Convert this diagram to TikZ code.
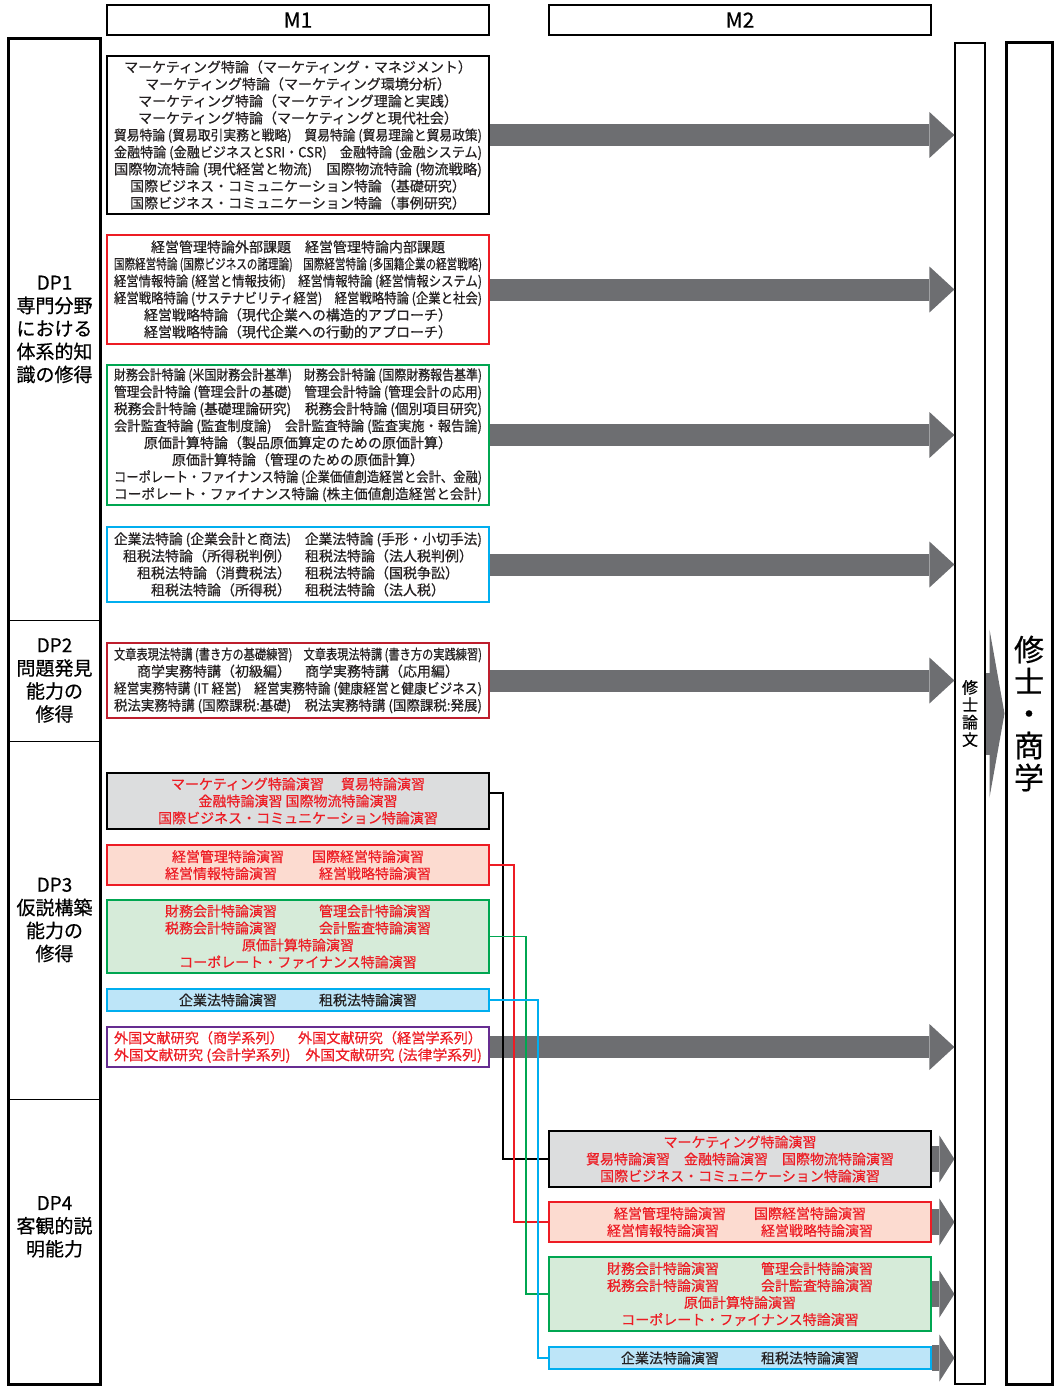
\documentclass[tikz,border=0pt]{standalone}
\usepackage{fontspec}
\setmainfont{Noto Sans CJK JP}[FakeBold=0.5]
\usetikzlibrary{arrows.meta}
\definecolor{cred}{HTML}{ED1C24}
\definecolor{cgreen}{HTML}{00A651}
\definecolor{ccyan}{HTML}{00AEEF}
\definecolor{cdarkred}{HTML}{BE1E2D}
\definecolor{cpurple}{HTML}{662D91}
\definecolor{fillgray}{HTML}{DCDDDE}
\definecolor{fillred}{HTML}{FCDBD0}
\definecolor{fillgreen}{HTML}{D6EBD9}
\definecolor{fillblue}{HTML}{BDE5F8}
\definecolor{arrowgray}{HTML}{6D6E71}
\definecolor{textblack}{HTML}{231F20}
\newcommand\fitrow[1]{\resizebox{184pt}{\height}{#1}}
\begin{document}
\begin{tikzpicture}[x=0.5pt,y=-0.5pt,
  header/.style={draw, line width=0.6pt, minimum width=191pt, minimum height=15pt, inner sep=0pt, font=\fontsize{10.5}{11}\selectfont},
  dpcell/.style={draw, line width=0.5pt, minimum width=45.5pt, inner sep=0pt, align=center, font=\fontsize{9.5}{11.5}\selectfont},
  course/.style={draw, line width=0.8pt, inner sep=0pt, minimum width=191pt, align=center, text=textblack, font=\fontsize{7}{8.5}\selectfont},
  seminar/.style={course, text=cred},
  mainarrow/.style={draw=arrowgray, line width=11pt, -{Triangle[width=23pt, length=12.5pt, line width=0pt]}},
  subarrow/.style={draw=arrowgray, line width=13pt, -{Triangle[width=23.5pt, length=7.5pt, line width=0pt]}},
  bigarrow/.style={draw=arrowgray, line width=41pt, -{Triangle[width=84pt, length=7.5pt, line width=0pt]}},
  conn/.style={line width=0.8pt}]
\useasboundingbox (0,0) rectangle (1054,1386);

\node[header] (m1) at (298,20) {M1};
\node[header] (m2) at (740,20) {M2};

\node[dpcell, minimum height=290.5pt] (dp1) at (54.5,329.5) {DP1\\専門分野\\における\\体系的知\\識の修得};
\node[dpcell, minimum height=60.5pt] (dp2) at (54.5,680.5) {DP2\\問題発見\\能力の\\修得};
\node[dpcell, minimum height=179pt] (dp3) at (54.5,920) {DP3\\仮説構築\\能力の\\修得};
\node[dpcell, minimum height=142.5pt] (dp4) at (54.5,1241.5) {DP4\\客観的説\\明能力\\[4pt]};
\draw[line width=1.5pt] (dp1.north west) rectangle (dp4.south east);

\node[draw, line width=0.6pt, minimum width=15pt, minimum height=670.5pt, inner sep=0pt, align=center, font=\fontsize{8}{8.7}\selectfont] (thesis) at (970,713.5) {修\\士\\論\\文};
\node[draw, line width=1.5pt, minimum width=23pt, minimum height=670.5pt, inner sep=0pt, align=center, font=\fontsize{15}{16}\selectfont] (degree) at (1029,713.5) {修\\士\\・\\商\\学};

\node[course, draw=black, line width=1pt, minimum height=79pt] (b1) at (298,135) {マーケティング特論（マーケティング・マネジメント）\\マーケティング特論（マーケティング環境分析）\\マーケティング特論（マーケティング理論と実践）\\マーケティング特論（マーケティングと現代社会）\\\fitrow{貿易特論 (貿易取引実務と戦略)　貿易特論 (貿易理論と貿易政策)}\\\fitrow{金融特論 (金融ビジネスとSRI・CSR)　金融特論 (金融システム)}\\\fitrow{国際物流特論 (現代経営と物流)　国際物流特論 (物流戦略)}\\国際ビジネス・コミュニケーション特論（基礎研究）\\国際ビジネス・コミュニケーション特論（事例研究）};
\node[course, draw=cred, minimum height=54.5pt] (b2) at (298,289.5) {経営管理特論外部課題　経営管理特論内部課題\\\fitrow{国際経営特論 (国際ビジネスの諸理論)　国際経営特論 (多国籍企業の経営戦略)}\\\fitrow{経営情報特論 (経営と情報技術)　経営情報特論 (経営情報システム)}\\\fitrow{経営戦略特論 (サステナビリティ経営)　経営戦略特論 (企業と社会)}\\経営戦略特論（現代企業への構造的アプローチ）\\経営戦略特論（現代企業への行動的アプローチ）};
\node[course, draw=cgreen, minimum height=70pt] (b3) at (298,435) {\fitrow{財務会計特論 (米国財務会計基準)　財務会計特論 (国際財務報告基準)}\\\fitrow{管理会計特論 (管理会計の基礎)　管理会計特論 (管理会計の応用)}\\\fitrow{税務会計特論 (基礎理論研究)　税務会計特論 (個別項目研究)}\\\fitrow{会計監査特論 (監査制度論)　会計監査特論 (監査実施・報告論)}\\原価計算特論（製品原価算定のための原価計算）\\原価計算特論（管理のための原価計算）\\\fitrow{コーポレート・ファイナンス特論 (企業価値創造経営と会計、金融)}\\\fitrow{コーポレート・ファイナンス特論 (株主価値創造経営と会計)}};
\node[course, draw=ccyan, minimum height=37.5pt] (b4) at (298,564.5) {\fitrow{企業法特論 (企業会計と商法)　企業法特論 (手形・小切手法)}\\租税法特論（所得税判例）　租税法特論（法人税判例）\\租税法特論（消費税法）　租税法特論（国税争訟）\\租税法特論（所得税）　租税法特論（法人税）};
\node[course, draw=cdarkred, minimum height=37.5pt] (b5) at (298,680.5) {\fitrow{文章表現法特講 (書き方の基礎練習)　文章表現法特講 (書き方の実践練習)}\\商学実務特講（初級編）　商学実務特講（応用編）\\\fitrow{経営実務特講 (IT 経営)　経営実務特論 (健康経営と健康ビジネス)}\\\fitrow{税法実務特講 (国際課税:基礎)　税法実務特講 (国際課税:発展)}};

\node[seminar, draw=black, line width=1.2pt, fill=fillgray, minimum height=28pt] (b6) at (298,801) {マーケティング特論演習　 貿易特論演習\\金融特論演習 国際物流特論演習\\国際ビジネス・コミュニケーション特論演習};
\node[seminar, draw=cred, fill=fillred, minimum height=20pt] (b7) at (298,865) {経営管理特論演習　　国際経営特論演習\\経営情報特論演習　　　経営戦略特論演習};
\node[seminar, draw=cgreen, fill=fillgreen, minimum height=36.5pt] (b8) at (298,936.5) {財務会計特論演習　　　管理会計特論演習\\税務会計特論演習　　　会計監査特論演習\\原価計算特論演習\\コーポレート・ファイナンス特論演習};
\node[course, draw=ccyan, fill=fillblue, minimum height=11pt] (b9) at (298,1000) {企業法特論演習　　　租税法特論演習};
\node[seminar, draw=cpurple, minimum height=20pt] (b10) at (298,1047) {\fitrow{外国文献研究（商学系列）　外国文献研究（経営学系列）}\\\fitrow{外国文献研究 (会計学系列)　外国文献研究 (法律学系列)}};

\node[seminar, draw=black, line width=1.2pt, fill=fillgray, minimum height=28pt] (c1) at (740,1159) {マーケティング特論演習\\貿易特論演習　金融特論演習　国際物流特論演習\\国際ビジネス・コミュニケーション特論演習};
\node[seminar, draw=cred, fill=fillred, minimum height=20pt] (c2) at (740,1222) {経営管理特論演習　　国際経営特論演習\\経営情報特論演習　　　経営戦略特論演習};
\node[seminar, draw=cgreen, fill=fillgreen, minimum height=37pt] (c3) at (740,1294) {財務会計特論演習　　　管理会計特論演習\\税務会計特論演習　　　会計監査特論演習\\原価計算特論演習\\コーポレート・ファイナンス特論演習};
\node[course, draw=ccyan, fill=fillblue, minimum height=11pt] (c4) at (740,1358) {企業法特論演習　　　租税法特論演習};

\draw[mainarrow] (b1.east) -- (b1.east -| thesis.west);
\draw[mainarrow] (b2.east) -- (b2.east -| thesis.west);
\draw[mainarrow] (b3.east) -- (b3.east -| thesis.west);
\draw[mainarrow] (b4.east) -- (b4.east -| thesis.west);
\draw[mainarrow] (b5.east) -- (b5.east -| thesis.west);
\draw[mainarrow] (b10.east) -- (b10.east -| thesis.west);
\draw[subarrow] (c1.east) -- (c1.east -| thesis.west);
\draw[subarrow] (c2.east) -- (c2.east -| thesis.west);
\draw[subarrow] (c3.east) -- (c3.east -| thesis.west);
\draw[subarrow] (c4.east) -- (c4.east -| thesis.west);
\draw[bigarrow] (thesis.east) -- (degree.west);

\draw[conn, draw=black] ([yshift=4pt]b6.east) -- ++(13,0) |- (c1.west);
\draw[conn, draw=cred] (b7.east) -- ++(24,0) |- (c2.west);
\draw[conn, draw=cgreen] (b8.east) -- ++(36,0) |- (c3.west);
\draw[conn, draw=ccyan] (b9.east) -- ++(48,0) |- (c4.west);
\end{tikzpicture}
\end{document}
